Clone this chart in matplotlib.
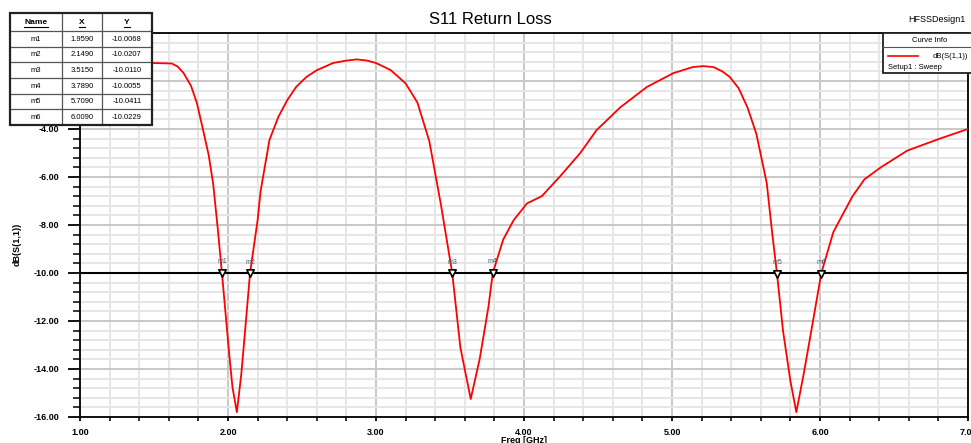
import numpy as np
import matplotlib.pyplot as plt
from matplotlib.ticker import MultipleLocator, FormatStrFormatter
from matplotlib.patches import Rectangle

plt.rcParams['font.family'] = ['Liberation Sans', 'DejaVu Sans']

# S11 curve (GHz, dB)
freq = [1.00, 1.20, 1.40, 1.49, 1.62, 1.66, 1.70, 1.75, 1.79, 1.83, 1.87, 1.90, 1.93, 1.959,
        2.01, 2.03, 2.06, 2.09, 2.11, 2.149, 2.20, 2.22, 2.28, 2.34, 2.40, 2.46, 2.53, 2.60,
        2.71, 2.80, 2.87, 2.94, 3.00, 3.10, 3.20, 3.28, 3.36, 3.44, 3.515, 3.57, 3.64,
        3.70, 3.76, 3.789, 3.86, 3.93, 4.02, 4.12, 4.24, 4.38, 4.49, 4.65, 4.83, 5.01,
        5.14, 5.21, 5.28, 5.34, 5.39, 5.45, 5.51, 5.57, 5.64, 5.68, 5.709, 5.75, 5.80,
        5.84, 5.89, 5.95, 6.009, 6.09, 6.15, 6.22, 6.30, 6.41, 6.59, 6.81, 7.00]
s11 = [-1.25, -1.25, -1.25, -1.25, -1.27, -1.4, -1.67, -2.2, -2.92, -4.0, -5.1, -6.3, -8.1, -10.0,
       -13.5, -14.75, -15.8, -14.2, -12.8, -10.0, -7.8, -6.6, -4.46, -3.5, -2.8, -2.25, -1.83, -1.55,
       -1.25, -1.15, -1.1, -1.15, -1.25, -1.55, -2.1, -2.9, -4.5, -7.2, -10.0, -13.1, -15.25,
       -13.6, -11.4, -10.0, -8.6, -7.8, -7.1, -6.8, -6.0, -5.0, -4.05, -3.1, -2.25, -1.67,
       -1.42, -1.38, -1.42, -1.6, -1.83, -2.3, -3.1, -4.2, -6.25, -8.5, -10.0, -12.4, -14.5,
       -15.8, -14.2, -12.1, -10.0, -8.3, -7.6, -6.8, -6.1, -5.6, -4.9, -4.4, -4.0]

# markers
marker_names = ['m1', 'm2', 'm3', 'm4', 'm5', 'm6']
marker_x = [1.9590, 2.1490, 3.5150, 3.7890, 5.7090, 6.0090]
marker_y = [-10.0068, -10.0207, -10.0110, -10.0055, -10.0411, -10.0229]

W, H = 971, 443
fig = plt.figure(figsize=(W / 100, H / 100), dpi=100)
ax = fig.add_axes([80 / W, 1 - 417 / H, 888 / W, 384 / H])

ax.set_xlim(1, 7)
ax.set_ylim(-16, 0)
ax.xaxis.set_major_locator(MultipleLocator(1))
ax.xaxis.set_minor_locator(MultipleLocator(0.2))
ax.yaxis.set_major_locator(MultipleLocator(2))
ax.yaxis.set_minor_locator(MultipleLocator(0.4))
ax.xaxis.set_major_formatter(FormatStrFormatter('%.2f'))
ax.yaxis.set_major_formatter(FormatStrFormatter('%.2f'))
ax.grid(which='major', color='#c8c8c8', lw=1.4)
ax.grid(which='minor', color='#e6e6e6', lw=1.4)
ax.set_axisbelow(True)
ax.tick_params(axis='y', which='major', direction='out', length=9, width=1.3, labelsize=6.5, pad=6)
ax.tick_params(axis='y', which='minor', direction='out', length=5, width=1.1)
ax.tick_params(axis='x', which='major', direction='out', length=3, width=1.3, labelsize=6.5, pad=5)
ax.tick_params(axis='x', which='minor', direction='out', length=3, width=1.1)
for lab in ax.get_xticklabels() + ax.get_yticklabels():
    lab.set_fontweight('bold')
for sp in ax.spines.values():
    sp.set_linewidth(1.3)

ax.axhline(-10, color='black', lw=1.5, zorder=3)
ax.plot(freq, s11, color='red', lw=1.3, zorder=4)
ax.scatter(marker_x, marker_y, marker='v', s=28, facecolor='white',
           edgecolor='black', lw=1.2, zorder=5)
for n, mx, my in zip(marker_names, marker_x, marker_y):
    ax.annotate(n, (mx, my), xytext=(0, 7), textcoords='offset points',
                ha='center', fontsize=5, color='#445577', zorder=6)

ax.set_xlabel('Freq [GHz]', fontsize=6.5, fontweight='bold', labelpad=-1)
ax.set_ylabel('dB(S(1,1))', fontsize=6.5, fontweight='bold')
ax.yaxis.set_label_coords(-58 / 888, 0.45)

fig.text(490 / W, 1 - 19 / H, 'S11 Return Loss', ha='center', va='center', fontsize=12)
fig.text(937 / W, 1 - 20 / H, 'HFSSDesign1', ha='center', va='center', fontsize=6.5)

# marker table (covers the top y tick labels, as in the reference)
tab = fig.add_axes([0, 0, 1, 1], facecolor='none')
tab.set_xlim(0, W)
tab.set_ylim(H, 0)
tab.axis('off')
col_edges = [10, 62, 102, 152]
row_edges = [13, 31, 47, 62, 78, 94, 109, 125]
tab.add_patch(Rectangle((10, 13), 142, 112, facecolor='white', edgecolor='none', zorder=1))
for xe in col_edges[1:-1]:
    tab.plot([xe, xe], [13, 125], color='#555555', lw=0.9, zorder=2)
for ye in row_edges[1:-1]:
    tab.plot([10, 152], [ye, ye], color='#555555', lw=0.9, zorder=2)
tab.add_patch(Rectangle((10, 13), 142, 112, facecolor='none', edgecolor='#222222', lw=1.6, zorder=3))
headers = ['Name', 'X', 'Y']
for j, h in enumerate(headers):
    cx = (col_edges[j] + col_edges[j + 1]) / 2
    tab.text(cx, 22, h, ha='center', va='center', fontsize=6, fontweight='bold')
    tab.plot([cx - len(h) * 3, cx + len(h) * 3], [27, 27], color='black', lw=0.8)
for i, (n, mx, my) in enumerate(zip(marker_names, marker_x, marker_y)):
    cy = (row_edges[i + 1] + row_edges[i + 2]) / 2
    tab.text(36, cy, n, ha='center', va='center', fontsize=5.5)
    tab.text(82, cy, f'{mx:.4f}', ha='center', va='center', fontsize=5.5)
    tab.text(127, cy, f'{my:.4f}', ha='center', va='center', fontsize=5.5)

# curve info box
tab.add_patch(Rectangle((883, 33), 100, 40, facecolor='white', edgecolor='#222222', lw=1.3, zorder=3))
tab.plot([883, 983], [47, 47], color='#555555', lw=0.8, zorder=4)
tab.text(930, 40, 'Curve Info', ha='center', va='center', fontsize=5.5, zorder=5)
tab.plot([888, 918], [56, 56], color='red', lw=1.2, zorder=5)
tab.text(968, 56, 'dB(S(1,1))', ha='right', va='center', fontsize=5.5, zorder=5)
tab.text(888, 67, 'Setup1 : Sweep', ha='left', va='center', fontsize=5.5, zorder=5)

fig.savefig('out.png', dpi=100)
